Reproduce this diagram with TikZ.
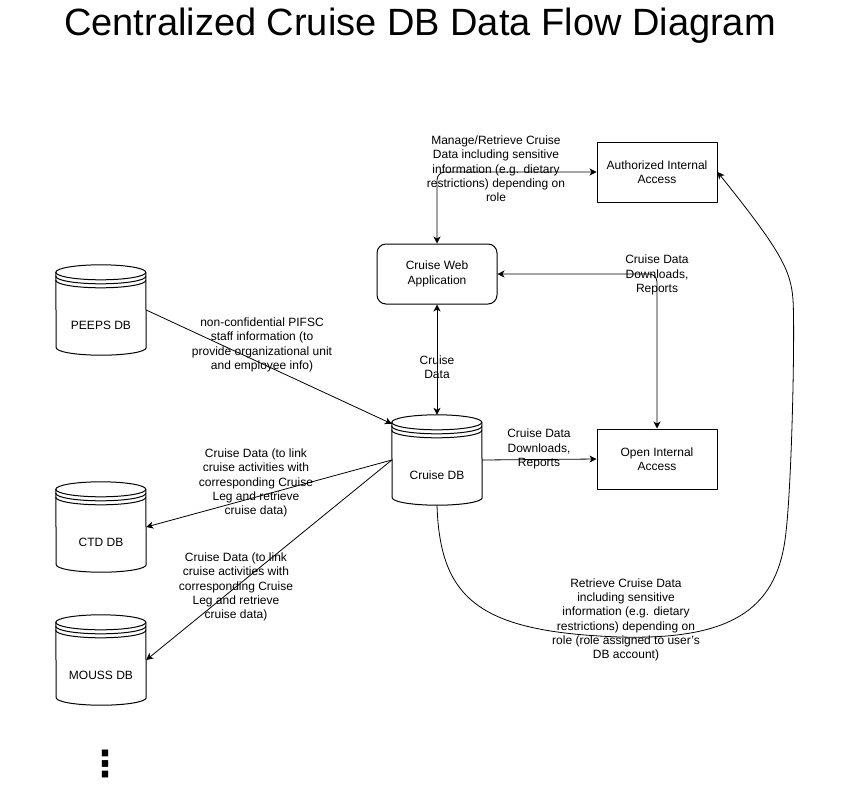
\documentclass[tikz,border=0pt]{standalone}
\usepackage{fontspec}
\setmainfont{Liberation Sans}
\newfontfamily\symfont{DejaVu Sans}
\usetikzlibrary{arrows.meta,positioning}

\newcommand{\flowfont}{\fontsize{12}{14.3}\selectfont}
% datastore drum drawn round a named node
\newcommand{\dbdrum}[1]{%
  \draw[line width=1pt] ([yshift=-7.5pt]#1.north west) arc[start angle=180, end angle=0, x radius=45pt, y radius=7.5pt]
    -- ([yshift=7.5pt]#1.south east) arc[start angle=0, end angle=-180, x radius=45pt, y radius=7.5pt] -- cycle;
  \foreach \d in {7.5pt,11.5pt,15.5pt}
    \draw[line width=1pt] ([yshift=-\d]#1.north west) arc[start angle=180, end angle=360, x radius=45pt, y radius=7.5pt];
}

\tikzset{
  procbox/.style={draw, line width=1pt, minimum width=120pt, minimum height=60pt, inner sep=0pt, align=center, font=\flowfont},
  appbox/.style={procbox, rounded corners=9pt},
  dbstore/.style={minimum width=90pt, minimum height=90pt, inner sep=0pt},
  dbtext/.style={font=\flowfont, yshift=-15pt},
  flowtext/.style={align=center, font=\flowfont, inner sep=0pt},
  tip/.tip={Stealth[length=7pt, width=7pt, inset=2pt]},
  flowline/.style={line width=0.8pt, -tip},
  bothway/.style={line width=0.8pt, tip-tip},
}

\begin{document}
\begin{tikzpicture}[x=1pt, y=-1pt, line cap=round, line join=round]
  \useasboundingbox (0,0) rectangle (842,785);

  \node[anchor=base, font=\fontsize{38}{40}\selectfont] (title) at (420,35) {Centralized Cruise DB Data Flow Diagram};

  % boxes
  \node[procbox] (auth) at (657,172) {Authorized Internal\\Access};
  \node[appbox] (web) at (437,274) {Cruise Web\\Application};
  \node[procbox] (open) at (657,459) {Open Internal\\Access};

  % data stores
  \node[dbstore, label={[dbtext]center:Cruise DB}] (cdb) at (437,460) {};
  \node[dbstore, label={[dbtext]center:PEEPS DB}] (peeps) at (101,310) {};
  \node[dbstore, label={[dbtext]center:CTD DB}] (ctd) at (101,527) {};
  \node[dbstore, label={[dbtext]center:MOUSS DB}] (mouss) at (101,660) {};
  \foreach \n in {cdb,peeps,ctd,mouss}
    \dbdrum{\n};

  \node[font=\symfont\bfseries\fontsize{36}{36}\selectfont, inner sep=0pt] (more) at (105,764) {⋮};

  % flows
  \draw[bothway, rounded corners=8pt] (auth.west) -| (web.north);
  \draw[bothway, rounded corners=8pt] (web.east) -| (open.north);
  \draw[bothway] (web.south) -- (cdb.north);
  \draw[flowline] (cdb.east) -- (open.west);
  \draw[flowline] (peeps.east) -- ([yshift=-9pt]cdb.north west);
  \draw[flowline] (cdb.west) -- (ctd.east);
  \draw[flowline] (cdb.west) -- (mouss.east);
  \draw[flowline] (cdb.south) .. controls (440,600) and (480,632) .. (620,637)
    .. controls (730,640) and (775,610) .. (785,540)
    .. controls (792,491) and (795,330) .. (793,300)
    .. controls (791,270) and (780,250) .. (auth.east);

  % flow labels
  \node[flowtext] (lmanage) at (496,169) {Manage/Retrieve Cruise\\Data including sensitive\\information (e.g. dietary\\restrictions) depending on\\role};
  \node[flowtext] (lwebopen) at (657,275) {Cruise Data\\Downloads,\\Reports};
  \node[flowtext] (lwebdb) at (437,367) {Cruise\\Data};
  \node[flowtext] (lpeeps) at (262,345) {non-confidential PIFSC\\staff information (to\\provide organizational unit\\and employee info)};
  \node[flowtext] (lctd) at (256,483) {Cruise Data (to link\\cruise activities with\\corresponding Cruise\\Leg and retrieve\\cruise data)};
  \node[flowtext] (lmouss) at (236,587) {Cruise Data (to link\\cruise activities with\\corresponding Cruise\\Leg and retrieve\\cruise data)};
  \node[flowtext] (ldbopen) at (539,449) {Cruise Data\\Downloads,\\Reports};
  \node[flowtext] (lretrieve) at (626,620) {Retrieve Cruise Data\\including sensitive\\information (e.g. dietary\\restrictions) depending on\\role (role assigned to user's\\DB account)};
\end{tikzpicture}
\end{document}
